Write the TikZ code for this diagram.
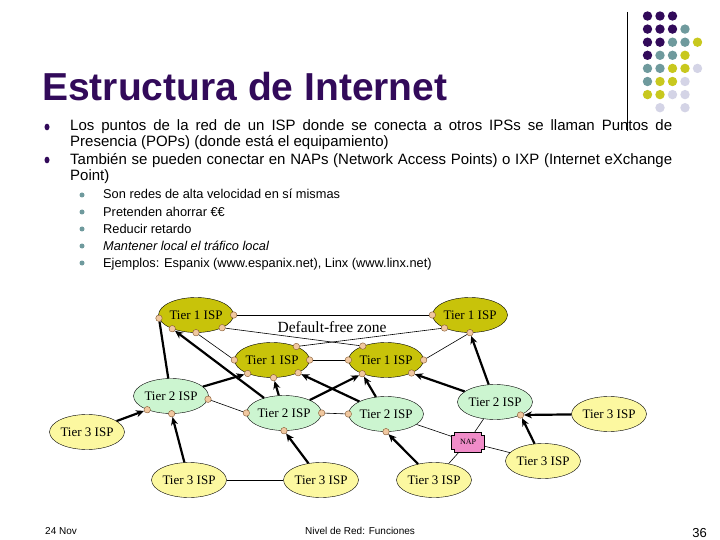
\documentclass[tikz,border=0pt]{standalone}
\usepackage{fontspec}
\setmainfont{Liberation Sans}
\newfontfamily\netfont{Liberation Serif}
\usetikzlibrary{arrows.meta, shapes.geometric}
\definecolor{slidepurple}{RGB}{50,10,90}
\definecolor{dotteal}{RGB}{111,154,157}
\definecolor{dotyellow}{RGB}{200,200,30}
\definecolor{dotlilac}{RGB}{212,212,230}
\definecolor{tieroneolive}{RGB}{200,195,10}
\definecolor{tiertwogreen}{RGB}{204,245,208}
\definecolor{tierthreeyellow}{RGB}{252,248,160}
\definecolor{nappink}{RGB}{240,140,200}
\definecolor{porttan}{RGB}{240,200,160}
\definecolor{portbrown}{RGB}{130,85,45}

\begin{document}
\begin{tikzpicture}[x=1pt, y=-1pt,
    isp/.style={ellipse, draw, inner sep=0pt, minimum width=68pt,
                minimum height=35pt, font=\netfont\fontsize{13}{13}\selectfont},
    tierone/.style={isp, fill=tieroneolive},
    tiertwo/.style={isp, fill=tiertwogreen},
    tierthree/.style={isp, fill=tierthreeyellow},
    port/.style={circle, draw=portbrown, fill=porttan, inner sep=0pt, minimum size=6.5pt},
    peerlink/.style={line width=0.6pt},
    uplink/.style={line width=2.2pt, -{Stealth[length=8pt, width=7pt]}},
    bodyline/.style={anchor=base west, inner sep=0pt, font=\fontsize{15}{18}\selectfont},
    subline/.style={anchor=base west, inner sep=0pt, font=\fontsize{12.8}{15}\selectfont},
    footline/.style={inner sep=0pt, font=\fontsize{10}{10}\selectfont}]
  \useasboundingbox[fill=white] (0,0) rectangle (720,540);

  % Slide title and corner dots
  \node[anchor=base west, inner sep=0pt, text=slidepurple,
        font=\fontsize{39}{39}\selectfont\bfseries] (title) at (42,101) {Estructura de Internet};
  \draw[line width=0.8pt] (627,12) -- (627,131);
  \fill[slidepurple] (647.5,16) circle (4.7pt) (660,16) circle (4.7pt) (672.5,16) circle (4.7pt);
  \fill[slidepurple] (647.5,29.1) circle (4.7pt) (660,29.1) circle (4.7pt) (672.5,29.1) circle (4.7pt);
  \fill[dotteal] (685,29.1) circle (4.7pt);
  \fill[slidepurple] (647.5,42.2) circle (4.7pt) (660,42.2) circle (4.7pt);
  \fill[dotteal] (672.5,42.2) circle (4.7pt) (685,42.2) circle (4.7pt);
  \fill[dotyellow] (697.5,42.2) circle (4.7pt);
  \fill[slidepurple] (647.5,55.3) circle (4.7pt);
  \fill[dotteal] (660,55.3) circle (4.7pt) (672.5,55.3) circle (4.7pt);
  \fill[dotyellow] (685,55.3) circle (4.7pt);
  \fill[dotteal] (647.5,68.4) circle (4.7pt) (660,68.4) circle (4.7pt);
  \fill[dotyellow] (672.5,68.4) circle (4.7pt) (685,68.4) circle (4.7pt);
  \fill[dotlilac] (697.5,68.4) circle (4.7pt);
  \fill[dotteal] (647.5,81.5) circle (4.7pt);
  \fill[dotyellow] (660,81.5) circle (4.7pt) (672.5,81.5) circle (4.7pt);
  \fill[dotlilac] (685,81.5) circle (4.7pt);
  \fill[dotyellow] (647.5,94.6) circle (4.7pt) (660,94.6) circle (4.7pt);
  \fill[dotlilac] (672.5,94.6) circle (4.7pt) (685,94.6) circle (4.7pt);
  \fill[dotlilac] (660,107.7) circle (4.7pt) (685,107.7) circle (4.7pt);

  % Bullets
  \fill[slidepurple] (47,127) ellipse (2.5pt and 3.3pt) (47,160) ellipse (2.5pt and 3.3pt);
  \node[bodyline] (b1a) at (70,131) {\makebox[602pt][s]{Los puntos de la red de un ISP donde se conecta a otros IPSs se llaman Puntos de}};
  \node[bodyline] (b1b) at (70,147) {Presencia (POPs) (donde está el equipamiento)};
  \node[bodyline] (b2a) at (70,165) {\makebox[602pt][s]{También se pueden conectar en NAPs (Network Access Points) o IXP (Internet eXchange}};
  \node[bodyline] (b2b) at (70,181) {Point)};
  \fill[dotteal] (82,195) circle (2.5pt) (82,212) circle (2.5pt) (82,229) circle (2.5pt)
                 (82,246) circle (2.5pt) (82,263) circle (2.5pt);
  \node[subline] (s1) at (103,198.5) {Son redes de alta velocidad en sí mismas};
  \node[subline] (s2) at (103,216.5) {Pretenden ahorrar €€};
  \node[subline] (s3) at (103,233.5) {Reducir retardo};
  \node[subline] (s4) at (103,250.5) {\itshape Mantener local el tráfico local};
  \node[subline] (s5) at (103,267.5) {Ejemplos: Espanix (www.espanix.net), Linx (www.linx.net)};

  % Tier 1
  \node[tierone] (t1a) at (196,315) {Tier 1 ISP};
  \node[tierone] (t1b) at (470,315) {Tier 1 ISP};
  \node[tierone] (t1c) at (272,360) {Tier 1 ISP};
  \node[tierone] (t1d) at (386,360) {Tier 1 ISP};
  \node[inner sep=0pt, font=\netfont\fontsize{15.5}{15.5}\selectfont] (dfz) at (332,327) {Default-free zone};

  % Tier 2
  \node[tiertwo] (t2a) at (171,396) {Tier 2 ISP};
  \node[tiertwo] (t2b) at (284,413) {Tier 2 ISP};
  \node[tiertwo] (t2c) at (386,414) {Tier 2 ISP};
  \node[tiertwo] (t2d) at (495,402) {Tier 2 ISP};

  % Tier 3
  \node[tierthree] (t3a) at (87,432) {Tier 3 ISP};
  \node[tierthree] (t3b) at (189,480) {Tier 3 ISP};
  \node[tierthree] (t3c) at (321,480) {Tier 3 ISP};
  \node[tierthree] (t3d) at (434,480) {Tier 3 ISP};
  \node[tierthree] (t3e) at (609,414) {Tier 3 ISP};
  \node[tierthree] (t3f) at (543,461) {Tier 3 ISP};

  % NAP
  \coordinate (napc) at (468,442);
  \draw[fill=nappink, shift={(napc)}] (-13.5,-10) -- (13.5,-10) -- (13.5,-7) -- (16.5,-7)
    -- (16.5,7) -- (13.5,7) -- (13.5,10) -- (-13.5,10) -- (-13.5,7) -- (-16.5,7)
    -- (-16.5,-7) -- (-13.5,-7) -- cycle;
  \node[inner sep=0pt, minimum width=33pt, minimum height=20pt,
        font=\netfont\fontsize{8}{8}\selectfont] (nap) at (napc) {NAP};

  % Ports
  \node[port] (t1aw) at (t1a.185) {}; \node[port] (t1ae) at (t1a.0) {};
  \node[port] (t1asw) at (t1a.210) {}; \node[port] (t1as) at (t1a.270) {};
  \node[port] (t1ase) at (t1a.334) {};
  \node[port] (t1bw) at (t1b.180) {}; \node[port] (t1bsw) at (t1b.207) {};
  \node[port] (t1bs) at (t1b.270) {};
  \node[port] (t1cw) at (t1c.180) {}; \node[port] (t1ce) at (t1c.0) {};
  \node[port] (t1cne) at (t1c.29) {}; \node[port] (t1csw) at (t1c.209) {};
  \node[port] (t1cs) at (t1c.275) {}; \node[port] (t1cse) at (t1c.334) {};
  \node[port] (t1dw) at (t1d.180) {}; \node[port] (t1de) at (t1d.0) {};
  \node[port] (t1dnw) at (t1d.149) {}; \node[port] (t1dsw) at (t1d.210) {};
  \node[port] (t1dse) at (t1d.333) {};
  \node[port] (t2ae) at (t2a.355) {}; \node[port] (t2asw) at (t2a.210) {};
  \node[port] (t2as) at (t2a.272) {};
  \node[port] (t2bw) at (t2b.180) {}; \node[port] (t2be) at (t2b.0) {};
  \node[port] (t2bs) at (t2b.270) {};
  \node[port] (t2cw) at (t2c.180) {}; \node[port] (t2cs) at (t2c.270) {};
  \node[port] (t2dse) at (t2d.333) {};

  % Peering links
  \draw[peerlink] (t1ae)--(t1bw); \draw[peerlink] (t1ase)--(t1dnw);
  \draw[peerlink] (t1bsw)--(t1cne); \draw[peerlink] (t1as)--(t1cw);
  \draw[peerlink] (t1bs)--(t1de); \draw[peerlink] (t1ce)--(t1dw);
  \draw[peerlink] (t2ae)--(t2bw); \draw[peerlink] (t2be)--(t2cw);
  \draw[peerlink] (t2c)--(nap); \draw[peerlink] (t2d)--(nap);
  \draw[peerlink] (nap)--(t3f); \draw[peerlink] (nap)--(t3d);
  \draw[peerlink] (t3b)--(t3c);

  % Customer to provider links
  \draw[line width=2.2pt] (t2a)--(t1aw);
  \draw[uplink] (t2b)--(t1asw); \draw[uplink] (t2a)--(t1csw);
  \draw[uplink] (t2b)--(t1cs); \draw[uplink] (t2b)--(t1dsw);
  \draw[uplink] (t2c)--(t1cse); \draw[uplink] (t2c)--(t1dsw);
  \draw[uplink] (t2d)--(t1dse); \draw[uplink] (t2d)--(t1bs);
  \draw[uplink] (t3a)--(t2asw); \draw[uplink] (t3b)--(t2as);
  \draw[uplink] (t3c)--(t2bs); \draw[uplink] (t3d)--(t2cs);
  \draw[uplink] (t3e)--(t2dse); \draw[uplink] (t3f)--(t2dse);

  % Footer
  \node[footline, anchor=base west] (date) at (45,534) {24 Nov};
  \node[footline, anchor=base] (chapter) at (360,534) {Nivel de Red: Funciones};
  \node[footline, anchor=base east, font=\fontsize{13}{13}\selectfont] (page) at (707,537) {36};
\end{tikzpicture}
\end{document}
